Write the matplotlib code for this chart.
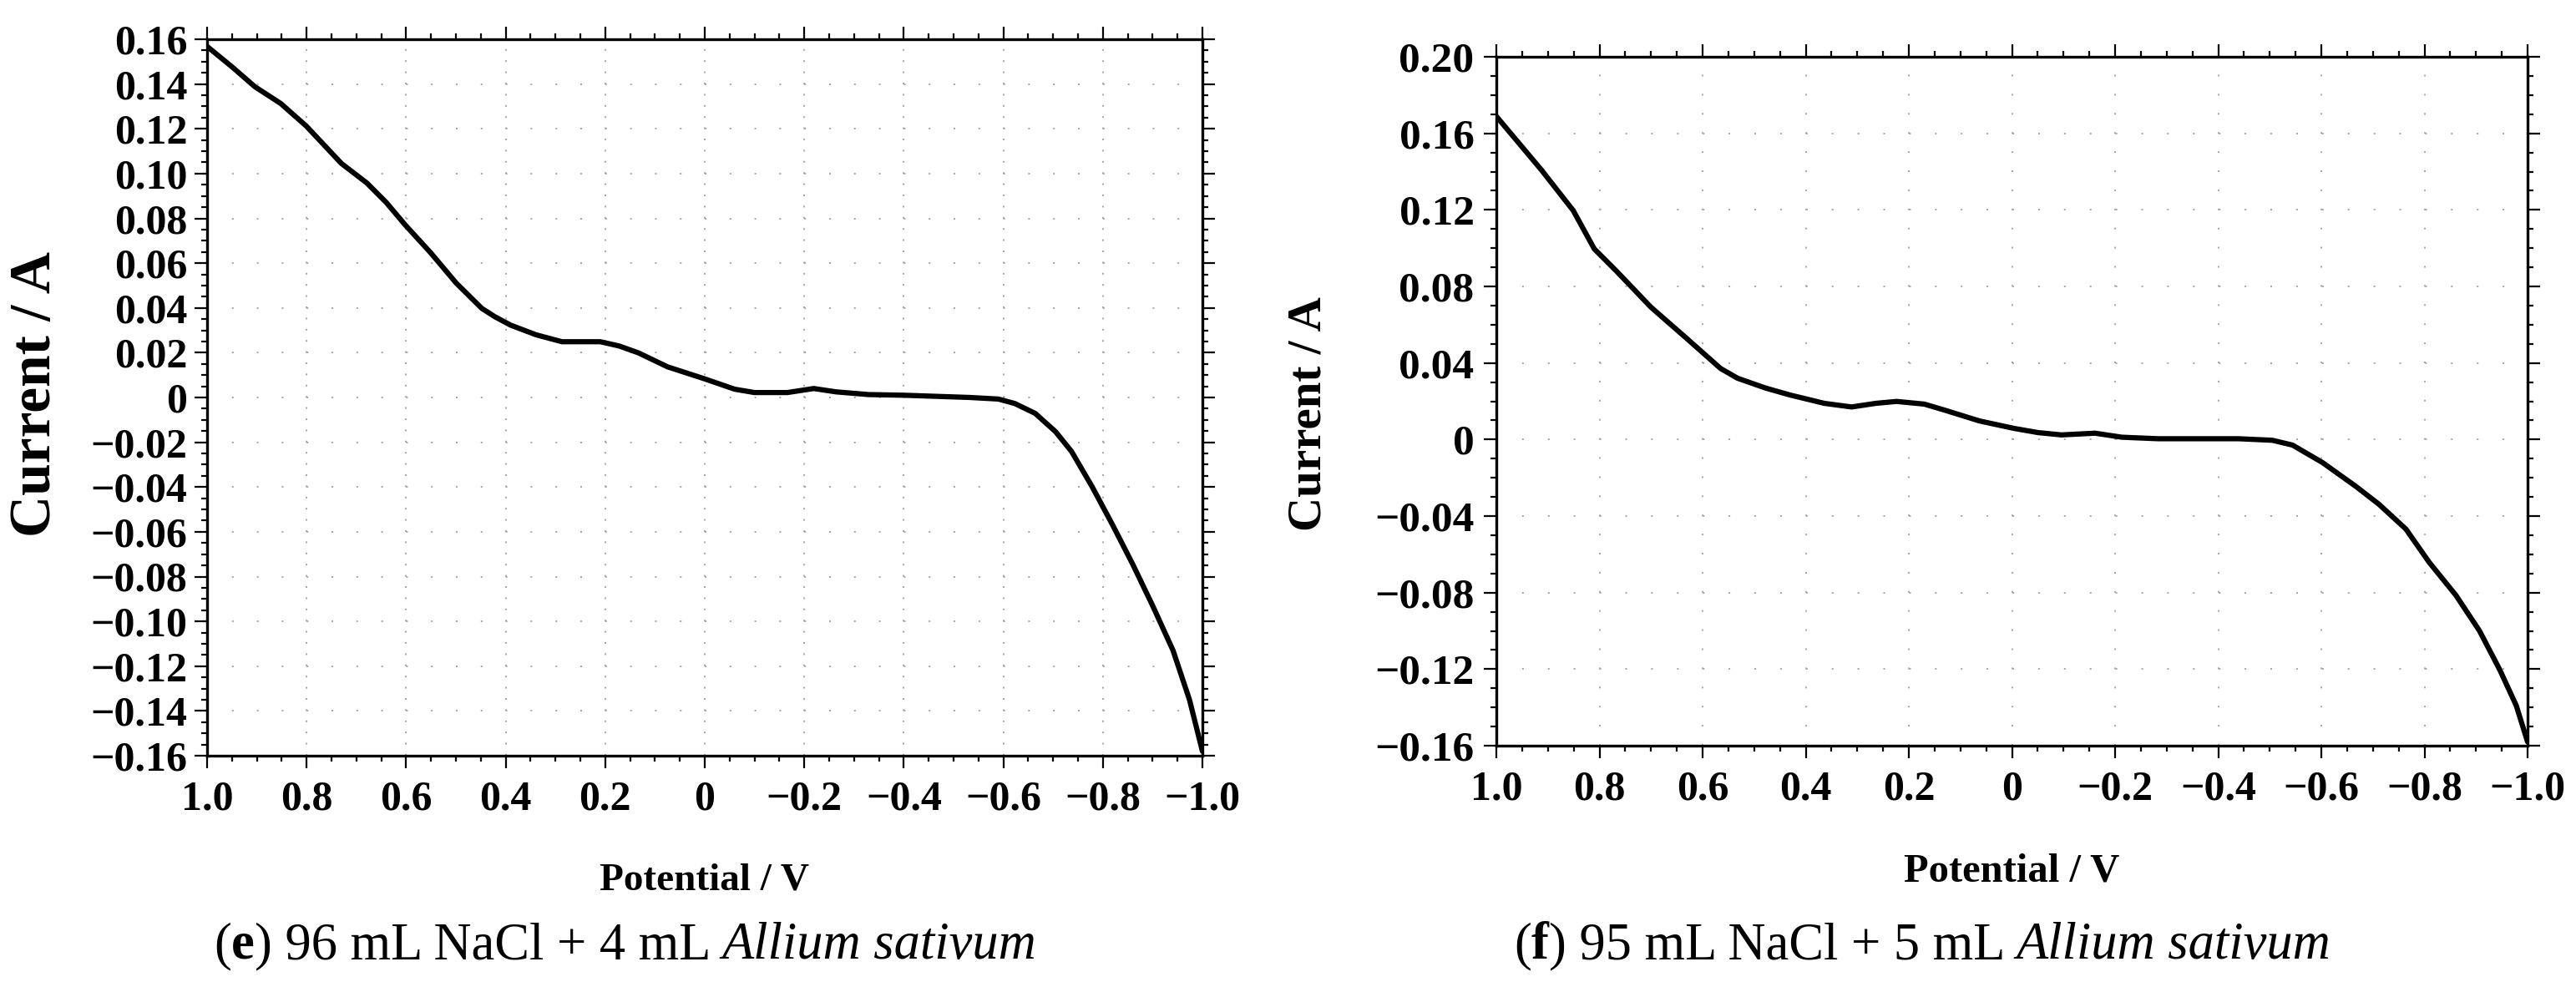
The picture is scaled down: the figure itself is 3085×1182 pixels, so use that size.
import numpy as np
import matplotlib.pyplot as plt
from matplotlib.ticker import MultipleLocator, FuncFormatter

# (e) 96 mL NaCl + 4 mL Allium sativum
pot_e = [1.0, 0.949, 0.904, 0.852, 0.801, 0.730, 0.679, 0.640, 0.602, 0.551,
         0.499, 0.448, 0.422, 0.390, 0.339, 0.287, 0.210, 0.172, 0.133, 0.075,
         0.0, -0.06, -0.1, -0.166, -0.219, -0.264, -0.329, -0.4, -0.533, -0.59,
         -0.623, -0.664, -0.705, -0.737, -0.778, -0.819, -0.86, -0.9, -0.941, -0.974,
         -1.0]
cur_e = [0.1568, 0.1475, 0.1388, 0.1313, 0.1213, 0.1045, 0.0958, 0.0871, 0.0771, 0.0647,
         0.051, 0.0398, 0.0361, 0.0323, 0.028, 0.0249, 0.0249, 0.023, 0.0199, 0.0137,
         0.0083, 0.0037, 0.0022, 0.0022, 0.004, 0.0025, 0.0013, 0.001, 0.0, -0.0007,
         -0.0027, -0.0071, -0.0153, -0.0241, -0.0397, -0.0567, -0.0745, -0.093, -0.113, -0.135,
         -0.158]

# (f) 95 mL NaCl + 5 mL Allium sativum
pot_f = [1.0, 0.913, 0.851, 0.81, 0.767, 0.70, 0.632, 0.565, 0.532, 0.478,
         0.431, 0.364, 0.311, 0.264, 0.224, 0.17, 0.13, 0.063, -0.004, -0.051,
         -0.096, -0.161, -0.213, -0.284, -0.44, -0.505, -0.544, -0.602, -0.667, -0.712,
         -0.764, -0.809, -0.861, -0.907, -0.946, -0.978, -1.0]
cur_f = [0.1689, 0.141, 0.1197, 0.0996, 0.088, 0.0691, 0.0531, 0.0371, 0.032, 0.0269,
         0.0233, 0.0189, 0.017, 0.0189, 0.0199, 0.0185, 0.0153, 0.0097, 0.0058, 0.0036,
         0.0024, 0.0033, 0.0012, 0.0004, 0.0004, -0.0004, -0.0029, -0.012, -0.0245, -0.0339,
         -0.0468, -0.0641, -0.0814, -0.1001, -0.1203, -0.139, -0.158]

captions = [("(", "e", ") 96 mL NaCl + 4 mL ", "Allium sativum"),
            ("(", "f", ") 95 mL NaCl + 5 mL ", "Allium sativum")]

FONT = 'Liberation Serif'
W, H = 3085, 1182


def fmt(dec):
    def f(v, pos):
        if abs(v) < 1e-9:
            return '0'
        s = f"{abs(v):.{dec}f}"
        return ('\u2212' + s) if v < 0 else s
    return FuncFormatter(f)


def style_axes(ax, ymaj, ymin, sizes, grid_dash):
    ax.set_xlim(1.0, -1.0)
    ax.xaxis.set_major_locator(MultipleLocator(0.2))
    ax.xaxis.set_minor_locator(MultipleLocator(0.05))
    ax.yaxis.set_major_locator(MultipleLocator(ymaj))
    ax.yaxis.set_minor_locator(MultipleLocator(ymin))
    ax.xaxis.set_major_formatter(fmt(1))
    ax.yaxis.set_major_formatter(fmt(2))
    for sp in ax.spines.values():
        sp.set_linewidth(2.4)
    ax.tick_params(which='both', direction='out', top=True, right=True, width=1.6)
    ax.tick_params(which='major', length=11)
    ax.tick_params(which='minor', length=5)
    ax.tick_params(axis='y', which='major', pad=sizes['ypad'])
    ax.tick_params(axis='x', which='major', pad=10)
    for lab in ax.get_yticklabels():
        lab.set_fontfamily(FONT); lab.set_fontweight('bold'); lab.set_fontsize(sizes['ytick'])
    for lab in ax.get_xticklabels():
        lab.set_fontfamily(FONT); lab.set_fontweight('bold'); lab.set_fontsize(sizes['xtick'])
    # dotted grid, one dot per minor tick
    ax.xaxis.grid(True, which='major', color='#a8a8a8', linewidth=1.44,
                  linestyle=(0, (1, grid_dash[0])))
    ax.yaxis.grid(True, which='major', color='#a8a8a8', linewidth=1.44,
                  linestyle=(0, (1, grid_dash[1])))
    ax.set_axisbelow(True)


fig = plt.figure(figsize=(W / 100, H / 100), dpi=100)

# axes boxes in pixels: left, top, right, bottom
boxes = [(248, 47, 1440, 905), (1792, 68, 3027, 893)]
axes = []
for (l, t, r, b) in boxes:
    axes.append(fig.add_axes([l / W, (H - b) / H, (r - l) / W, (b - t) / H]))
ax1, ax2 = axes

ax1.plot(pot_e, cur_e, color='black', linewidth=4.5, solid_capstyle='round', solid_joinstyle='round')
ax1.set_ylim(-0.16, 0.16)
style_axes(ax1, 0.02, 0.005, {'ytick': 36, 'xtick': 36, 'ypad': 6}, (5.7, 13.9))
ax1.set_xlabel('Potential / V', fontfamily=FONT, fontweight='bold', fontsize=34, va='center')
ax1.xaxis.set_label_coords(0.5, (905 - 1055) / 858)
ax1.set_ylabel('Current / A', fontfamily=FONT, fontweight='bold', fontsize=50, va='center')
ax1.yaxis.set_label_coords((43 - 248) / 1192, 0.505)

ax2.plot(pot_f, cur_f, color='black', linewidth=4.5, solid_capstyle='round', solid_joinstyle='round')
ax2.set_ylim(-0.16, 0.20)
style_axes(ax2, 0.04, 0.01, {'ytick': 37, 'xtick': 36, 'ypad': 8}, (10.45, 14.45))
ax2.set_xlabel('Potential / V', fontfamily=FONT, fontweight='bold', fontsize=35, va='center')
ax2.xaxis.set_label_coords(0.5, (893 - 1044) / 825)
ax2.set_ylabel('Current / A', fontfamily=FONT, fontweight='bold', fontsize=41, va='center')
ax2.yaxis.set_label_coords((1567 - 1792) / 1235, 0.482)

# captions: regular text, bold panel letter, italic species name
for x0, parts in zip([256, 1813], captions):
    kw = dict(fontfamily=FONT, fontsize=45, va='bottom', ha='left')
    prev = fig.text(x0 / W, (H - 1162) / H, parts[0], **kw)
    for txt, extra in zip(parts[1:], [{'fontweight': 'bold'}, {}, {'fontstyle': 'italic'}]):
        prev = fig.add_artist(plt.Annotation(txt, xy=(1, 0), xycoords=prev, **kw, **extra))

fig.savefig('out.png', dpi=100, facecolor='white')
